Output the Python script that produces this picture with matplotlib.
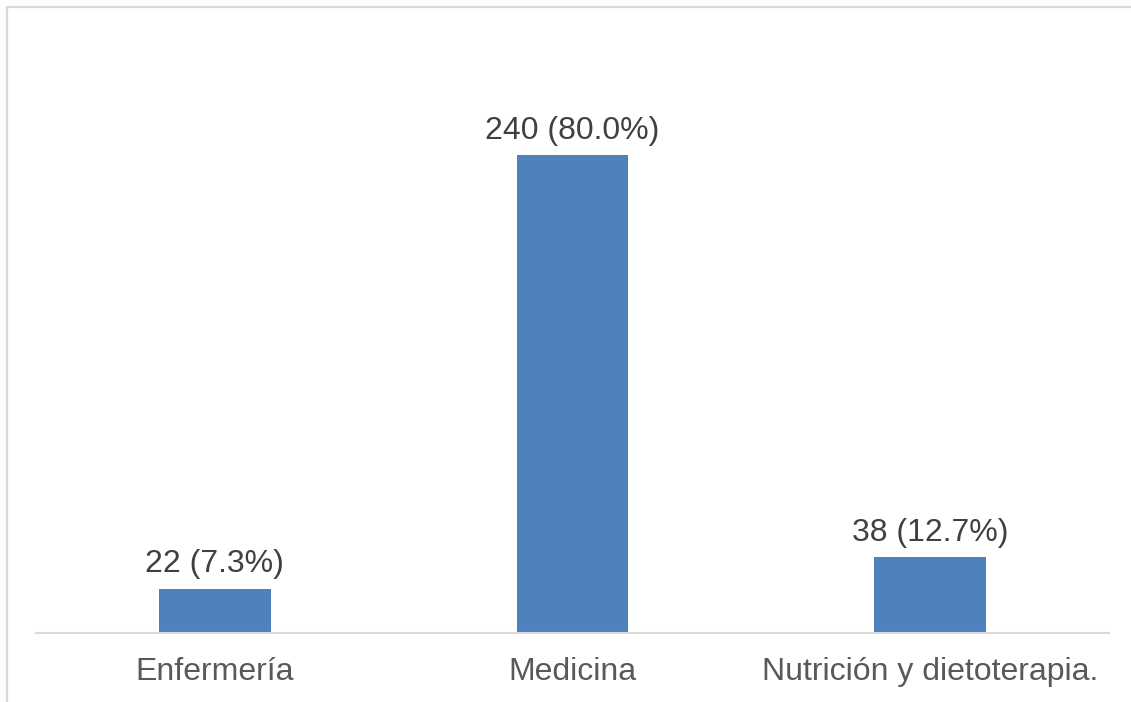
import matplotlib
matplotlib.use("Agg")
import matplotlib.pyplot as plt
from matplotlib.patches import Rectangle

categories = ["Enfermería", "Medicina", "Nutrición y dietoterapia."]
counts = [22, 240, 38]
percents = [7.3, 80.0, 12.7]

plt.rcParams["font.family"] = ["Liberation Sans", "DejaVu Sans"]

W, H = 1131, 702
fig = plt.figure(figsize=(W / 100, H / 100), dpi=100)
fig.patch.set_facecolor("white")

# chart frame (only top and left edges fall inside the canvas)
frame = Rectangle((6.5 / W, -0.2), 1.2, 1.2 - 6.5 / H, transform=fig.transFigure,
                  fill=False, edgecolor="#d9d9d9", linewidth=1.6, clip_on=False)
fig.patches.append(frame)

left, right = 36 / W, 1109 / W
bottom = 1 - 633 / H
top = 1 - 36 / H
ax = fig.add_axes([left, bottom, right - left, top - bottom])

x = list(range(len(categories)))
bars = ax.bar(x, counts, width=0.313, color="#4f81bd", zorder=2)
ax.set_xlim(-0.5, len(categories) - 0.5)
ax.set_ylim(0, 300)

for xi, c, p in zip(x, counts, percents):
    ax.annotate(f"{c} ({p:.1f}%)", (xi, c), xytext=(0, 7), textcoords="offset points",
                ha="center", va="bottom", fontsize=23, color="#404040")

ax.set_xticks(x)
ax.set_xticklabels(categories, fontsize=23, color="#595959")
ax.tick_params(axis="x", length=0, pad=17)
ax.set_yticks([])
for s in ("top", "right", "left"):
    ax.spines[s].set_visible(False)
ax.spines["bottom"].set_color("#d9d9d9")
ax.spines["bottom"].set_linewidth(1.5)
ax.set_facecolor("none")

fig.savefig("out.png", dpi=100)
